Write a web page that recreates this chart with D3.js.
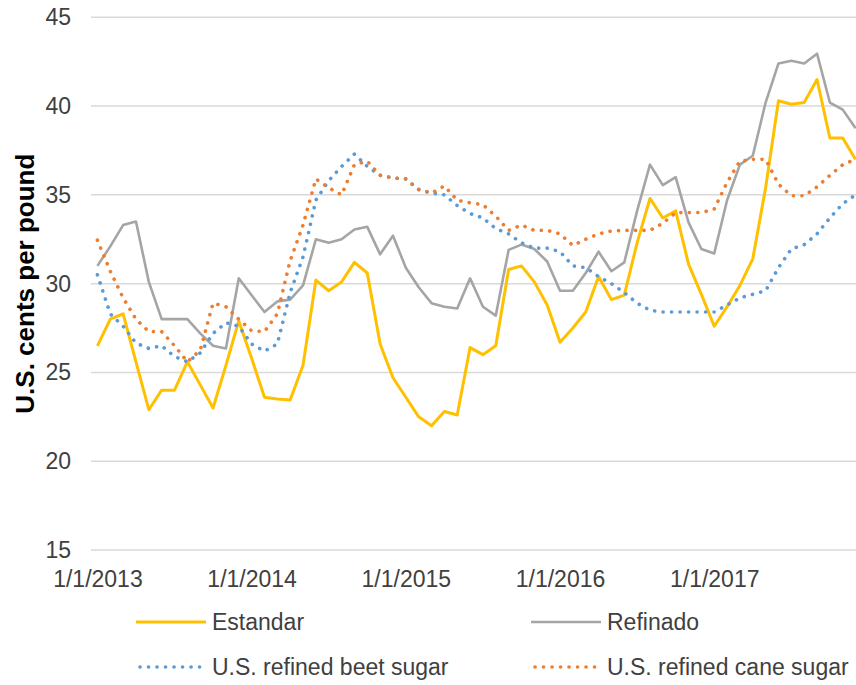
<!DOCTYPE html>
<html>
<head>
<meta charset="utf-8">
<script src="https://cdn.jsdelivr.net/npm/d3@7"></script>
<style>
  body { margin: 0; background: #fff; }
  svg { display: block; font-family: "Liberation Sans", Arial, sans-serif; }
  .grid line { stroke: #d9d9d9; stroke-width: 1.5; }
  .tick text { fill: #404040; font-size: 23px; }
</style>
</head>
<body>
<div id="chart"></div>
<script>
// --- data: monthly prices, Jan 2013 .. Dec 2017 (U.S. cents per pound) ---
const months = d3.range(60);   // month index from Jan 2013
const xTickMonths = [0, 12, 24, 36, 48];
const xTickLabels = ["1/1/2013", "1/1/2014", "1/1/2015", "1/1/2016", "1/1/2017"];
const yTicks = [15, 20, 25, 30, 35, 40, 45];

const estandar = [26.5, 28.0, 28.3, 25.6, 22.9, 24.0, 24.0, 25.6, 24.3, 23.0, 25.4, 27.9,
  25.8, 23.6, 23.5, 23.45, 25.4, 30.2, 29.6, 30.1, 31.2, 30.6, 26.6, 24.7,
  23.6, 22.5, 22.0, 22.8, 22.6, 26.4, 26.0, 26.5, 30.8, 31.0, 30.1, 28.8,
  26.7, 27.5, 28.4, 30.4, 29.1, 29.35, 32.3, 34.8, 33.7, 34.1, 31.1, 29.4,
  27.6, 28.7, 29.9, 31.4, 35.4, 40.3, 40.1, 40.2, 41.5, 38.2, 38.2, 37.0];

const refinado = [31.0, 32.1, 33.3, 33.5, 30.1, 28.0, 28.0, 28.0, 27.2, 26.5, 26.35, 30.3,
  29.35, 28.4, 29.0, 29.1, 29.9, 32.5, 32.3, 32.5, 33.05, 33.2, 31.65, 32.7,
  30.9, 29.8, 28.9, 28.7, 28.6, 30.3, 28.7, 28.2, 31.9, 32.2, 31.95, 31.25,
  29.6, 29.6, 30.6, 31.8, 30.7, 31.2, 34.1, 36.7, 35.55, 36.0, 33.45, 31.95,
  31.7, 34.7, 36.7, 37.2, 40.2, 42.4, 42.55, 42.4, 42.95, 40.2, 39.8, 38.75];

const beet = [30.5, 28.3, 27.6, 26.65, 26.35, 26.5, 25.9, 25.6, 26.1, 27.2, 27.8, 27.6,
  26.6, 26.2, 26.6, 29.5, 31.5, 34.7, 35.8, 36.6, 37.3, 36.6, 36.1, 35.95,
  35.9, 35.3, 35.1, 35.0, 34.4, 33.95, 33.7, 33.1, 32.8, 32.3, 32.0, 32.0,
  31.8, 31.0, 30.9, 30.4, 30.0, 29.5, 28.9, 28.5, 28.4, 28.4, 28.4, 28.4,
  28.4, 28.8, 29.2, 29.4, 29.6, 30.9, 31.95, 32.2, 32.8, 33.7, 34.5, 35.0];

const cane = [32.45, 30.7, 29.2, 28.0, 27.3, 27.3, 26.5, 25.6, 26.25, 28.9, 28.7, 28.0,
  27.35, 27.3, 28.3, 31.3, 33.3, 35.9, 35.4, 35.0, 36.7, 36.9, 36.1, 35.95,
  35.9, 35.3, 35.1, 35.5, 34.7, 34.55, 34.45, 33.8, 33.0, 33.3, 33.0, 33.0,
  32.8, 32.15, 32.5, 32.8, 32.97, 33.0, 33.0, 33.0, 33.4, 34.0, 34.0, 34.0,
  34.2, 35.7, 36.9, 37.0, 37.0, 35.6, 34.95, 34.95, 35.45, 36.1, 36.7, 37.0];

const seriesNames = ["Estandar", "Refinado", "U.S. refined beet sugar", "U.S. refined cane sugar"];
const seriesValues = [estandar, refinado, beet, cane];
const seriesColors = ["#ffc000", "#a5a5a5", "#5b9bd5", "#ed7d31"];
const seriesDotted = [false, false, true, true];

// --- layout ---
const width = 856, height = 685;
const plot = { left: 91, right: 862, top: 17.3, bottom: 550 };

const svg = d3.select("#chart").append("svg")
  .attr("width", width)
  .attr("height", height);

const x = d3.scalePoint()
  .domain(months)
  .range([plot.left, plot.right])
  .padding(0.5);

const y = d3.scaleLinear()
  .domain([15, 45])
  .range([plot.bottom, plot.top]);

// gridlines
svg.append("g")
  .attr("class", "grid")
  .selectAll("line")
  .data(yTicks)
  .join("line")
  .attr("x1", plot.left)
  .attr("x2", width)
  .attr("y1", d => y(d))
  .attr("y2", d => y(d));

// y axis labels
const yAxis = svg.append("g")
  .attr("transform", `translate(${plot.left - 20},0)`)
  .call(d3.axisLeft(y).tickValues(yTicks).tickSize(0).tickPadding(0));
yAxis.select(".domain").remove();

// x axis labels
const xAxis = svg.append("g")
  .attr("transform", `translate(0,${plot.bottom + 19})`)
  .call(d3.axisBottom(x)
    .tickValues(xTickMonths)
    .tickFormat((d, i) => xTickLabels[i])
    .tickSize(0)
    .tickPadding(0));
xAxis.select(".domain").remove();
xAxis.selectAll("text").attr("dy", "0.78em");

// y title
svg.append("text")
  .attr("transform", `translate(34,${(plot.top + plot.bottom) / 2}) rotate(-90)`)
  .attr("text-anchor", "middle")
  .style("font-size", "26px")
  .style("font-weight", "bold")
  .attr("fill", "#000")
  .text("U.S. cents per pound");

// lines
const line = d3.line()
  .x((d, i) => x(months[i]))
  .y(d => y(d));

seriesValues.forEach((vals, k) => {
  const p = svg.append("path")
    .datum(vals)
    .attr("fill", "none")
    .attr("stroke", seriesColors[k])
    .attr("stroke-linejoin", "round")
    .attr("d", line);
  if (seriesDotted[k]) {
    p.attr("stroke-width", 3.6)
      .attr("stroke-linecap", "round")
      .attr("stroke-dasharray", "0.1 8.4");
  } else {
    p.attr("stroke-width", k === 0 ? 3 : 2.6);
  }
});

// legend
const legendPos = [[136, 622], [531, 622], [136, 667], [531, 667]];
seriesNames.forEach((name, k) => {
  const [lx, ly] = legendPos[k];
  const g = svg.append("g").attr("transform", `translate(${lx},${ly})`);
  const l = g.append("line")
    .attr("x1", 0).attr("x2", 70)
    .attr("stroke", seriesColors[k]);
  if (seriesDotted[k]) {
    l.attr("x1", 4).attr("x2", 66)
      .attr("stroke-width", 3.6)
      .attr("stroke-linecap", "round")
      .attr("stroke-dasharray", "0.1 8.4");
  } else {
    l.attr("stroke-width", k === 0 ? 3 : 2.6);
  }
  g.append("text")
    .attr("x", 76)
    .attr("dy", "0.35em")
    .style("font-size", "23px")
    .attr("fill", "#404040")
    .text(name);
});
</script>
</body>
</html>
